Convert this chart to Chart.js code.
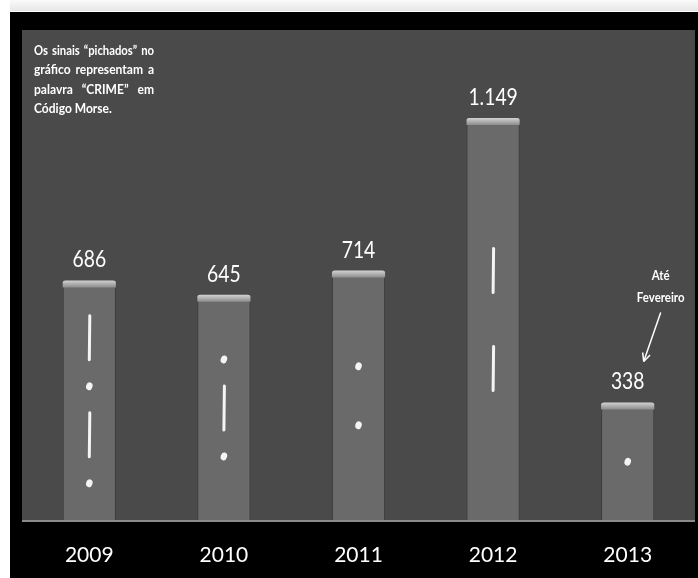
<!DOCTYPE html>
<html>
<head>
<meta charset="utf-8">
<script src="https://cdn.jsdelivr.net/npm/chart.js@4"></script>
<style>
  html, body { margin: 0; padding: 0; background: #fff; }
  #wrap { width: 698px; height: 578px; position: relative; }
</style>
</head>
<body>
<div id="wrap"><canvas id="crimeChart" width="698" height="578"></canvas></div>
<script>
// data
const years = ["2009", "2010", "2011", "2012", "2013"];
const cases = [686, 645, 714, 1149, 338];
// letters of "CRIME" in morse, one per bar
const morse = ["-.-.", ".-.", "..", "--", "."];
const noteLines = ["Os sinais \u201cpichados\u201d no", "gr\u00e1fico representam a", "palavra \u201cCRIME\u201d em", "C\u00f3digo Morse."];
const sideNote = ["At\u00e9", "Fevereiro"];

const fmt = (v) => String(v).replace(/\B(?=(\d{3})+(?!\d))/g, ".");

// condensed text helper (reference uses a narrow face)
function narrowText(ctx, text, x, y, squeeze) {
  const w = ctx.measureText(text).width;
  ctx.fillText(text, x, y, w * squeeze);
}

// page frame + grey panel behind the plot
const framePlugin = {
  id: "frame",
  beforeDraw(chart) {
    const { ctx, chartArea: a, width, height } = chart;
    ctx.save();
    ctx.fillStyle = "#ffffff";
    ctx.fillRect(0, 0, width, height);
    const g = ctx.createLinearGradient(0, 0, 0, 12);
    g.addColorStop(0, "#fafafa");
    g.addColorStop(1, "#e4e4e4");
    ctx.fillStyle = g;
    ctx.fillRect(10, 0, width - 10, 11);
    ctx.fillStyle = "#000";
    ctx.fillRect(10, 12, width - 10, height - 12);
    ctx.fillStyle = "#4a4a4a";
    ctx.fillRect(a.left, a.top, a.right - a.left, a.bottom - a.top);
    ctx.restore();
  },
  afterDraw(chart) {
    const { ctx, chartArea: a } = chart;
    const meta = chart.getDatasetMeta(0);
    ctx.save();
    // baseline
    ctx.strokeStyle = "#8a8a8a";
    ctx.lineWidth = 2;
    ctx.beginPath();
    ctx.moveTo(a.left, a.bottom);
    ctx.lineTo(a.right, a.bottom);
    ctx.stroke();

    meta.data.forEach((bar, i) => {
      const half = bar.width / 2;
      // light cap on top of each bar
      const cg = ctx.createLinearGradient(0, bar.y, 0, bar.y + 7);
      cg.addColorStop(0, "#d2d2d2");
      cg.addColorStop(1, "#8c8c8c");
      ctx.fillStyle = cg;
      ctx.beginPath();
      ctx.moveTo(bar.x - half, bar.y + 7);
      ctx.lineTo(bar.x - half, bar.y + 2);
      ctx.quadraticCurveTo(bar.x - half, bar.y, bar.x - half + 3, bar.y);
      ctx.lineTo(bar.x + half - 3, bar.y);
      ctx.quadraticCurveTo(bar.x + half, bar.y, bar.x + half, bar.y + 2);
      ctx.lineTo(bar.x + half, bar.y + 7);
      ctx.closePath();
      ctx.fill();

      // value label
      ctx.fillStyle = "#ffffff";
      ctx.font = "23px Lato, 'Open Sans', sans-serif";
      ctx.textAlign = "center";
      ctx.textBaseline = "alphabetic";
      narrowText(ctx, fmt(cases[i]), bar.x, bar.y - 13, 0.84);

      // morse marks, centred in the bar
      const code = morse[i].split("");
      const dashLen = 46, dotLen = 7;
      const gap = code.length <= 2 ? 52 : 22;
      const lens = code.map((c) => (c === "-" ? dashLen : dotLen));
      const total = lens.reduce((s, l) => s + l, 0) + gap * (code.length - 1);
      let y = (bar.y + bar.base) / 2 - total / 2;
      ctx.strokeStyle = "#f4f4f4";
      ctx.fillStyle = "#f4f4f4";
      ctx.lineCap = "round";
      code.forEach((c, k) => {
        if (c === "-") {
          ctx.lineWidth = 3;
          ctx.beginPath();
          ctx.moveTo(bar.x + 0.5, y + 1);
          ctx.lineTo(bar.x, y + dashLen - 1);
          ctx.stroke();
        } else {
          ctx.beginPath();
          ctx.ellipse(bar.x, y + dotLen / 2, 3.2, 4, 0.3, 0, Math.PI * 2);
          ctx.fill();
        }
        y += lens[k] + gap;
      });
    });

    // top-left note, justified
    ctx.fillStyle = "#ffffff";
    ctx.font = "bold 14px Lato, sans-serif";
    ctx.textAlign = "left";
    ctx.textBaseline = "middle";
    const nx = 34, nw = 120, minGap = 4;
    noteLines.forEach((line, i) => {
      const ly = 50 + i * 19.5;
      const words = line.split(" ");
      if (i === noteLines.length - 1) {
        narrowText(ctx, line, nx, ly, 0.86);
        return;
      }
      const rawW = words.reduce((s, w) => s + ctx.measureText(w).width, 0);
      const scale = Math.min(0.86, (nw - minGap * (words.length - 1)) / rawW);
      const gap = (nw - rawW * scale) / (words.length - 1);
      let x = nx;
      words.forEach((w) => {
        const ww = ctx.measureText(w).width * scale;
        ctx.fillText(w, x, ly, ww);
        x += ww + gap;
      });
    });

    // "Até Fevereiro" with arrow, pinned to the last bar
    const last = meta.data[meta.data.length - 1];
    ctx.font = "bold 13px Lato, sans-serif";
    ctx.textAlign = "center";
    narrowText(ctx, sideNote[0], last.x + 33, last.y - 127, 0.88);
    narrowText(ctx, sideNote[1], last.x + 33, last.y - 105, 0.88);
    const x1 = last.x + 33, y1 = last.y - 90, x2 = last.x + 16, y2 = last.y - 41;
    ctx.strokeStyle = "#ffffff";
    ctx.lineWidth = 1.5;
    ctx.lineCap = "butt";
    ctx.beginPath();
    ctx.moveTo(x1, y1);
    ctx.lineTo(x2, y2);
    ctx.stroke();
    const ang = Math.atan2(y2 - y1, x2 - x1);
    ctx.beginPath();
    ctx.moveTo(x2, y2);
    ctx.lineTo(x2 - 9 * Math.cos(ang - 0.45), y2 - 9 * Math.sin(ang - 0.45));
    ctx.moveTo(x2, y2);
    ctx.lineTo(x2 - 9 * Math.cos(ang + 0.45), y2 - 9 * Math.sin(ang + 0.45));
    ctx.stroke();
    ctx.restore();
  }
};

const ctx = document.getElementById("crimeChart").getContext("2d");
new Chart(ctx, {
  type: "bar",
  data: {
    labels: years,
    datasets: [
      {
        data: cases,
        backgroundColor: (c) => {
          const el = c.element;
          const area = c.chart.chartArea;
          if (!el || !area || el.width === undefined) return "#6a6a6a";
          const g = c.chart.ctx.createLinearGradient(el.x - el.width / 2, 0, el.x + el.width / 2, 0);
          g.addColorStop(0, "#555555");
          g.addColorStop(0.12, "#6a6a6a");
          g.addColorStop(0.5, "#727272");
          g.addColorStop(0.88, "#6a6a6a");
          g.addColorStop(1, "#555555");
          return g;
        },
        borderColor: "#3c3c3c",
        borderWidth: { left: 1, right: 1, top: 0, bottom: 0 },
        barPercentage: 0.395,
        categoryPercentage: 1,
      },
    ],
  },
  options: {
    responsive: false,
    animation: false,
    layout: { padding: { left: 22, right: 3, top: 30, bottom: 0 } },
    plugins: {
      legend: { display: false },
      tooltip: { enabled: false },
    },
    scales: {
      x: {
        grid: { display: false, drawTicks: false },
        border: { display: false },
        ticks: {
          color: "#ffffff",
          font: { size: 21, family: "Lato, 'Open Sans', sans-serif" },
          padding: 22,
        },
        afterFit: (axis) => { axis.height = 57; },
      },
      y: {
        display: false,
        min: 0,
        max: 1400,
      },
    },
  },
  plugins: [framePlugin],
});
</script>
</body>
</html>
